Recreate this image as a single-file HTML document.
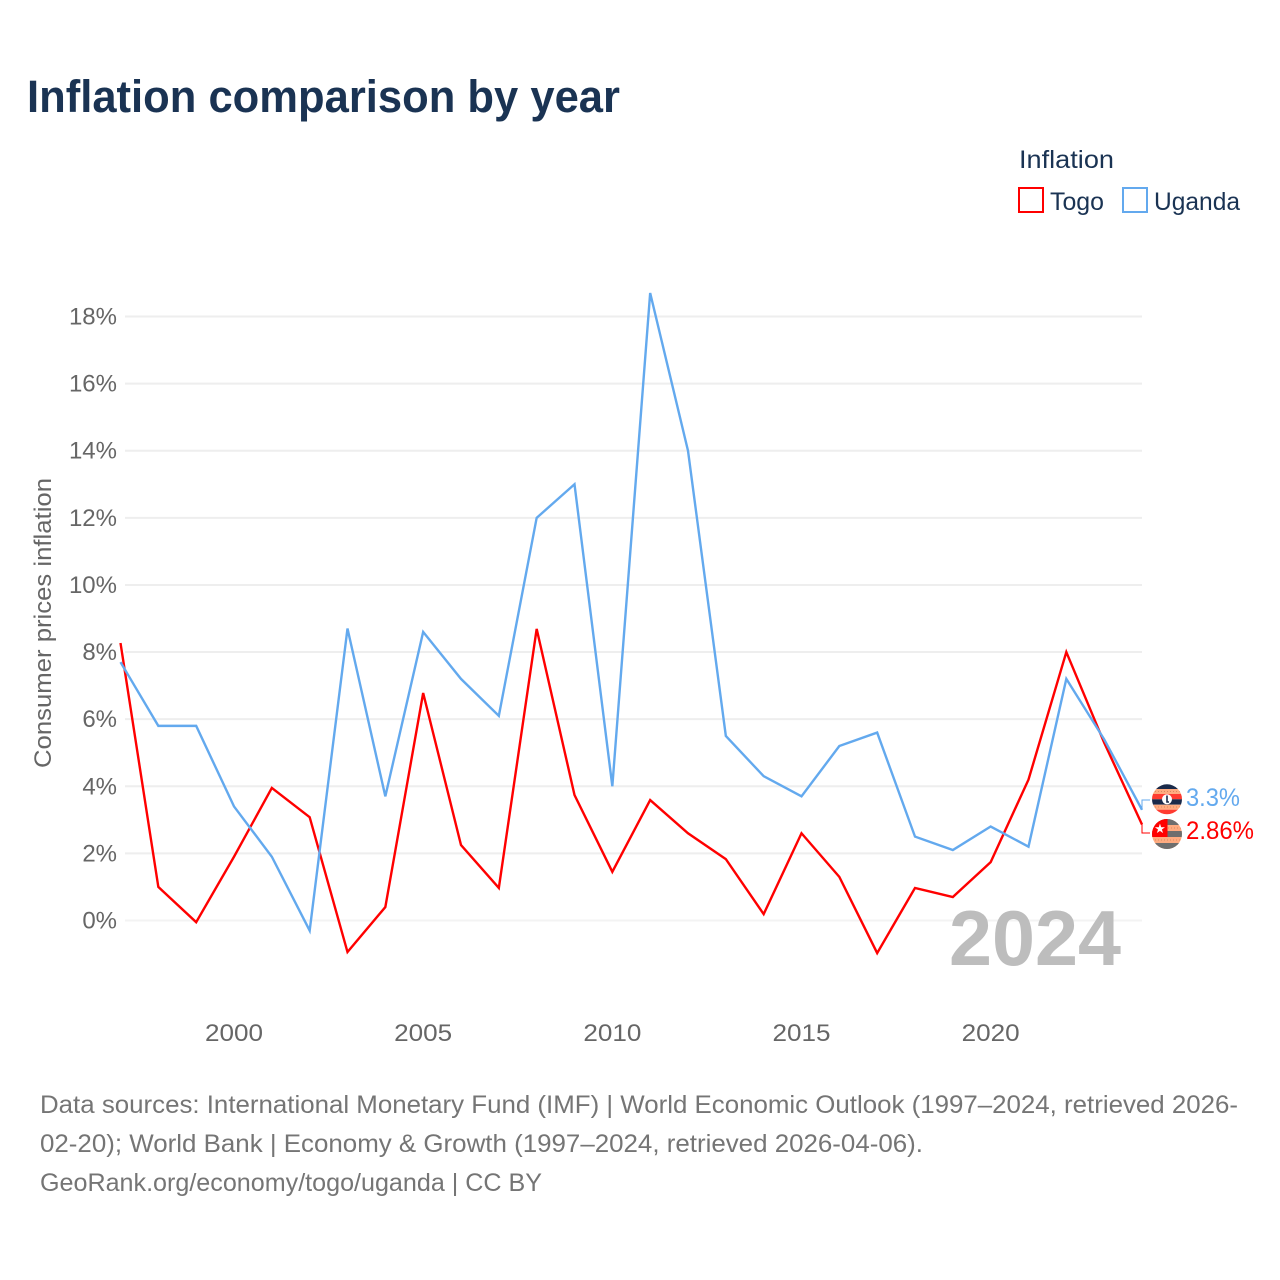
<!DOCTYPE html>
<html lang="en">
<head>
<meta charset="utf-8">
<title>Inflation comparison by year</title>
<style>
html,body{margin:0;padding:0;background:#fff}
svg{display:block}
text{font-family:"Liberation Sans",sans-serif}
</style>
</head>
<body>
<svg id="chart" xmlns="http://www.w3.org/2000/svg" width="1280" height="1280" viewBox="0 0 1280 1280">
  <rect width="1280" height="1280" fill="#fff"/>
  <text x="27" y="112" font-size="45" font-weight="700" fill="#1a3353" textLength="593" lengthAdjust="spacingAndGlyphs">Inflation comparison by year</text>

  <g>
    <text x="1019" y="168" font-size="25" fill="#1a3353" textLength="95" lengthAdjust="spacingAndGlyphs">Inflation</text>
    <g>
      <rect x="1019" y="188" width="24" height="24" fill="#fff" stroke="#ff0000" stroke-width="2"/>
      <text x="1050" y="210" font-size="25" fill="#1a3353" textLength="54" lengthAdjust="spacingAndGlyphs">Togo</text>
    </g>
    <g>
      <rect x="1123" y="188" width="24" height="24" fill="#fff" stroke="#63a9ee" stroke-width="2"/>
      <text x="1154" y="210" font-size="25" fill="#1a3353" textLength="86" lengthAdjust="spacingAndGlyphs">Uganda</text>
    </g>
  </g>

  <text transform="translate(51 623) rotate(-90)" text-anchor="middle" font-size="24.5" fill="#666" textLength="290" lengthAdjust="spacingAndGlyphs">Consumer prices inflation</text>

  <g id="grid"></g>
  <g id="yticks"></g>
  <g id="xticks"></g>

  <text x="949" y="965" font-size="78" font-weight="700" fill="#bdbdbd" textLength="172" lengthAdjust="spacingAndGlyphs">2024</text>

  <g id="series"></g>

  <defs>
    <clipPath id="clip-ug"><circle cx="1167" cy="799.3" r="15"/></clipPath>
    <clipPath id="clip-tg"><circle cx="1167" cy="834" r="15"/></clipPath>
  </defs>
  <g clip-path="url(#clip-ug)">
    <rect x="1152" y="784" width="30" height="5" fill="#1a2a4a"/>
    <rect x="1152" y="789" width="30" height="5" fill="#ffab80"/>
    <rect x="1152" y="794" width="30" height="5.3" fill="#ff3b30"/>
    <rect x="1152" y="799.3" width="30" height="5.4" fill="#1a2a4a"/>
    <rect x="1152" y="804.7" width="30" height="5" fill="#ffab80"/>
    <rect x="1152" y="809.7" width="30" height="5" fill="#ff3b30"/>
    <line x1="1152" x2="1182" y1="791.5" y2="791.5" stroke="#d98a60" stroke-width="1" stroke-dasharray="1 2"/>
    <line x1="1152" x2="1182" y1="807" y2="807" stroke="#d98a60" stroke-width="1" stroke-dasharray="1 2"/>
    <circle cx="1167" cy="799.3" r="5" fill="#fff"/>
    <path d="M1167 795.5v6.5h2" fill="none" stroke="#1a2a4a" stroke-width="1.6"/>
  </g>
  <g clip-path="url(#clip-tg)">
    <rect x="1152" y="819" width="30" height="30" fill="#ffab80"/>
    <rect x="1152" y="819" width="30" height="6" fill="#6e6e6e"/>
    <rect x="1152" y="831" width="30" height="6" fill="#6e6e6e"/>
    <rect x="1152" y="843" width="30" height="6" fill="#6e6e6e"/>
    <line x1="1168" x2="1182" y1="828" y2="828" stroke="#d98a60" stroke-width="1" stroke-dasharray="1 2"/>
    <line x1="1152" x2="1182" y1="840" y2="840" stroke="#d98a60" stroke-width="1" stroke-dasharray="1 2"/>
    <rect x="1152" y="819" width="15.5" height="18" fill="#ff0000"/>
    <text x="1160" y="833" text-anchor="middle" font-size="13" fill="#fff">★</text>
  </g>
  <text x="1186" y="806" font-size="25" fill="#63a9ee" textLength="54" lengthAdjust="spacingAndGlyphs">3.3%</text>
  <text x="1186" y="839" font-size="25" fill="#ff0000" textLength="68" lengthAdjust="spacingAndGlyphs">2.86%</text>

  <g font-size="25" fill="#757575">
    <text x="40" y="1113" textLength="1198" lengthAdjust="spacingAndGlyphs">Data sources: International Monetary Fund (IMF) | World Economic Outlook (1997–2024, retrieved 2026-</text>
    <text x="40" y="1152" textLength="883" lengthAdjust="spacingAndGlyphs">02-20); World Bank | Economy &amp; Growth (1997–2024, retrieved 2026-04-06).</text>
    <text x="40" y="1191" textLength="502" lengthAdjust="spacingAndGlyphs">GeoRank.org/economy/togo/uganda | CC BY</text>
  </g>
</svg>
<script>
const years = [1997,1998,1999,2000,2001,2002,2003,2004,2005,2006,2007,2008,2009,2010,2011,2012,2013,2014,2015,2016,2017,2018,2019,2020,2021,2022,2023,2024];
const togoValues = [8.27,1.0,-0.05,1.9,3.95,3.08,-0.94,0.4,6.78,2.25,0.97,8.69,3.74,1.45,3.59,2.6,1.83,0.19,2.6,1.3,-0.97,0.97,0.7,1.74,4.2,8.0,5.3,2.86];
const ugandaValues = [7.7,5.8,5.8,3.4,1.9,-0.3,8.7,3.7,8.6,7.2,6.1,12.0,13.0,4.0,18.7,14.0,5.5,4.3,3.7,5.2,5.6,2.5,2.1,2.8,2.2,7.2,5.4,3.3];
const yTickValues = [0,2,4,6,8,10,12,14,16,18];
const xTickValues = [2000,2005,2010,2015,2020];

const SVG_NS = 'http://www.w3.org/2000/svg';
function xScale(year) { return 120.5 + (year - 1997) * (1142 - 120.5) / (2024 - 1997); }
function yScale(value) { return 920.5 - value * (920.5 - 316.5) / 18; }

const gridGroup = document.getElementById('grid');
const yTickGroup = document.getElementById('yticks');
const xTickGroup = document.getElementById('xticks');
const seriesGroup = document.getElementById('series');

yTickValues.forEach(function (v) {
  const line = document.createElementNS(SVG_NS, 'line');
  
  
  line.setAttribute('x1', 125);
  line.setAttribute('x2', 1142);
  line.setAttribute('y1', yScale(v));
  line.setAttribute('y2', yScale(v));
  line.setAttribute('stroke', v === 0 ? '#f3f3f3' : '#eeeeee');
  line.setAttribute('stroke-width', 2);
  gridGroup.appendChild(line);

  const label = document.createElementNS(SVG_NS, 'text');
  
  
  label.setAttribute('x', 117);
  label.setAttribute('y', yScale(v) + 8);
  label.setAttribute('text-anchor', 'end');
  label.setAttribute('font-size', 24);
  label.setAttribute('fill', '#666');
  label.textContent = v + '%';
  yTickGroup.appendChild(label);
});

xTickValues.forEach(function (year) {
  const label = document.createElementNS(SVG_NS, 'text');
  
  
  label.setAttribute('x', xScale(year));
  label.setAttribute('y', 1041);
  label.setAttribute('text-anchor', 'middle');
  label.setAttribute('font-size', 24);
  label.setAttribute('textLength', 58);
  label.setAttribute('lengthAdjust', 'spacingAndGlyphs');
  label.setAttribute('fill', '#666');
  label.textContent = year;
  xTickGroup.appendChild(label);
});

function pathFor(values) {
  return values.map(function (v, i) {
    return (i ? 'L' : 'M') + xScale(years[i]).toFixed(2) + ' ' + yScale(v).toFixed(2);
  }).join(' ');
}

const togoLine = document.createElementNS(SVG_NS, 'path');


togoLine.setAttribute('d', pathFor(togoValues));
togoLine.setAttribute('fill', 'none');
togoLine.setAttribute('stroke', '#ff0000');
togoLine.setAttribute('stroke-width', 2.4);
seriesGroup.appendChild(togoLine);

const ugandaLine = document.createElementNS(SVG_NS, 'path');


ugandaLine.setAttribute('d', pathFor(ugandaValues));
ugandaLine.setAttribute('fill', 'none');
ugandaLine.setAttribute('stroke', '#63a9ee');
ugandaLine.setAttribute('stroke-width', 2.4);
seriesGroup.appendChild(ugandaLine);

const lastX = xScale(years[years.length - 1]);

const ugandaConnector = document.createElementNS(SVG_NS, 'path');


ugandaConnector.setAttribute('d', 'M' + lastX + ' ' + yScale(ugandaValues[ugandaValues.length - 1]) + ' V800 H1150');
ugandaConnector.setAttribute('fill', 'none');
ugandaConnector.setAttribute('stroke', '#63a9ee');
ugandaConnector.setAttribute('stroke-width', 1);
seriesGroup.appendChild(ugandaConnector);

const togoConnector = document.createElementNS(SVG_NS, 'path');


togoConnector.setAttribute('d', 'M' + lastX + ' ' + yScale(togoValues[togoValues.length - 1]) + ' V833 H1150');
togoConnector.setAttribute('fill', 'none');
togoConnector.setAttribute('stroke', '#ff0000');
togoConnector.setAttribute('stroke-width', 1);
seriesGroup.appendChild(togoConnector);
</script>
</body>
</html>
